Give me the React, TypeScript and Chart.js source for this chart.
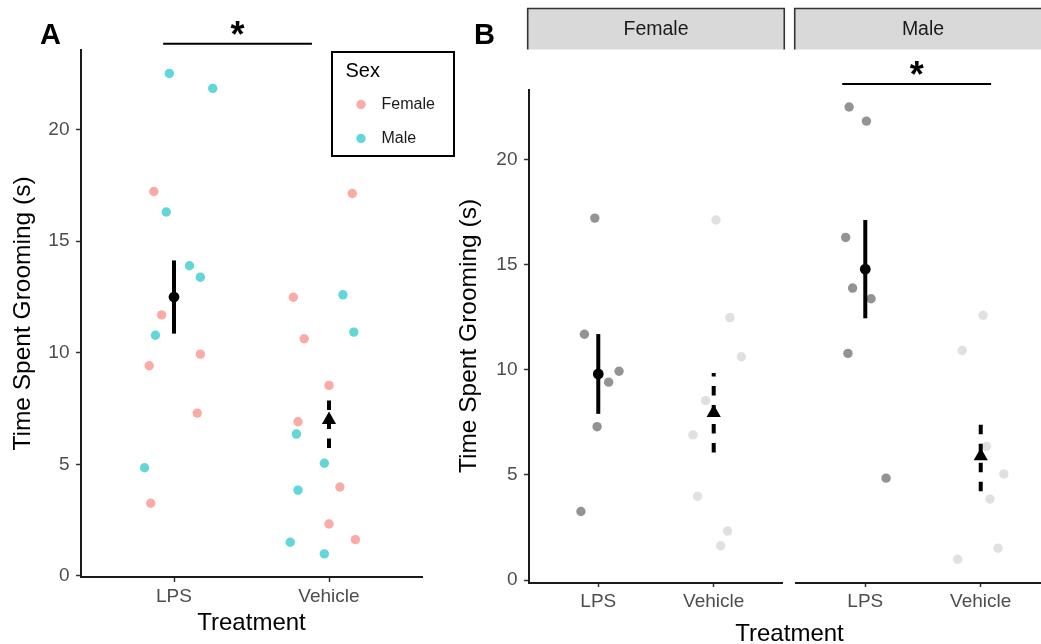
import { useEffect, useRef } from 'react';
import { Chart, registerables } from 'chart.js';

Chart.register(...registerables);

const FONT = "'Liberation Sans', Arial, Helvetica, sans-serif";

// Categories
const treatments = ['LPS', 'Vehicle'];
const sexes = ['Female', 'Male'];
const yTickValues = [0, 5, 10, 15, 20];

// Time spent grooming (s), one value per animal
const lpsFemale = [17.23, 11.7, 9.94, 9.42, 7.3, 3.26];
const lpsMale = [22.52, 21.85, 16.31, 13.9, 13.39, 10.79, 4.85];
const vehicleFemale = [17.14, 12.49, 10.63, 8.54, 6.91, 3.99, 2.33, 1.63];
const vehicleMale = [12.6, 10.93, 6.36, 5.05, 3.85, 1.51, 0.99];

// Horizontal jitter of each animal (category units), panel A
const jitterALpsFemale = [-0.13, -0.08, 0.17, -0.16, 0.15, -0.15];
const jitterALpsMale = [-0.03, 0.25, -0.05, 0.1, 0.17, -0.12, -0.19];
const jitterAVehicleFemale = [0.15, -0.23, -0.16, 0.0, -0.2, 0.07, 0.0, 0.17];
const jitterAVehicleMale = [0.09, 0.16, -0.21, -0.03, -0.2, -0.25, -0.03];

// Horizontal jitter, panel B
const jitterBLpsFemale = [-0.03, -0.12, 0.18, 0.09, -0.01, -0.15];
const jitterBLpsMale = [-0.14, 0.01, -0.17, -0.11, 0.05, -0.15, 0.18];
const jitterBVehicleFemale = [0.02, 0.14, 0.24, -0.07, -0.18, -0.14, 0.12, 0.06];
const jitterBVehicleMale = [0.02, -0.16, 0.05, 0.2, 0.08, 0.15, -0.2];

// Group mean and mean ± SE, per treatment (LPS, Vehicle)
const meanAll = [12.5, 7.0];
const lowAll = [10.86, 5.74];
const highAll = [14.14, 8.26];
const meanFemale = [9.81, 7.96];
const lowFemale = [7.91, 6.07];
const highFemale = [11.71, 9.86];
const meanMale = [14.8, 5.9];
const lowMale = [12.46, 4.22];
const highMale = [17.14, 7.58];

// Significance brackets
const sigA = { from: 0.93, to: 1.89, y: 23.85, label: '*' };
const sigBMale = { from: 0.8, to: 2.09, y: 23.62, label: '*' };

const sexColors = ['rgba(248,118,109,0.62)', 'rgba(0,191,196,0.62)'];
const treatmentGreys = ['rgba(80,80,80,0.62)', 'rgba(205,205,205,0.62)'];

// Offset of the Male facet along the shared x scale of panel B
const MALE_SHIFT = 2.313;

type Pt = { x: number; y: number };
const jittered = (vals: number[], jit: number[], pos: number): Pt[] =>
  vals.map((v, i) => ({ x: pos + jit[i], y: v }));

function summarySets(means: number[], lo: number[], hi: number[], positions: number[]) {
  const sets: any[] = positions.map((p, i) => ({
    type: 'line',
    label: `${treatments[i]} SE`,
    data: [
      { x: p, y: lo[i] },
      { x: p, y: hi[i] },
    ],
    borderColor: '#000',
    borderWidth: 4,
    borderDash: i === 1 ? [9.5, 9.5] : [],
    borderCapStyle: 'butt',
    pointRadius: 0,
    fill: false,
    order: 1,
  }));
  sets.push({
    type: 'scatter',
    label: 'mean',
    data: positions.map((p, i) => ({ x: p, y: means[i] })),
    pointStyle: ['circle', 'triangle'],
    pointRadius: [5.4, 8.2],
    backgroundColor: '#000',
    borderColor: '#000',
    borderWidth: 0,
    order: 0,
  });
  return sets;
}

function bracketSet(s: { from: number; to: number; y: number }, shift: number) {
  return {
    type: 'line',
    label: 'bracket',
    data: [
      { x: s.from + shift, y: s.y },
      { x: s.to + shift, y: s.y },
    ],
    borderColor: '#000',
    borderWidth: 2,
    pointRadius: 0,
    fill: false,
    clip: false,
    order: 0,
  };
}

function yAxis(min: number, max: number, width: number, titlePad: number) {
  return {
    type: 'linear',
    position: 'left',
    min,
    max,
    afterBuildTicks: (s: any) => {
      s.ticks = yTickValues.map((v) => ({ value: v }));
    },
    afterFit: (s: any) => {
      s.width = width;
    },
    border: { display: true, color: '#1A1A1A', width: 2 },
    grid: {
      display: true,
      drawOnChartArea: false,
      drawTicks: true,
      tickLength: 5,
      tickWidth: 1.5,
      tickColor: '#333333',
    },
    ticks: { color: '#4D4D4D', font: { family: FONT, size: 19 }, padding: 6.5 },
    title: {
      display: true,
      text: 'Time Spent Grooming (s)',
      color: '#000',
      font: { family: FONT, size: 24.5, lineHeight: 1 },
      padding: { top: titlePad, bottom: 0 },
    },
  };
}

function xAxis(min: number, max: number, tickValues: number[], height: number, titlePad: number, border: boolean) {
  return {
    type: 'linear',
    position: 'bottom',
    min,
    max,
    afterBuildTicks: (s: any) => {
      s.ticks = tickValues.map((v) => ({ value: v }));
    },
    afterFit: (s: any) => {
      s.height = height;
    },
    border: { display: border, color: '#1A1A1A', width: 2 },
    grid: {
      display: true,
      drawOnChartArea: false,
      drawTicks: true,
      tickLength: 5,
      tickWidth: 1.5,
      tickColor: '#333333',
    },
    ticks: {
      color: '#4D4D4D',
      font: { family: FONT, size: 19 },
      padding: 3.5,
      autoSkip: false,
      maxRotation: 0,
      callback: (_v: any, i: number) => treatments[i % 2],
    },
    title: {
      display: true,
      text: 'Treatment',
      color: '#000',
      font: { family: FONT, size: 24, lineHeight: 1 },
      padding: { top: 0, bottom: titlePad },
    },
  };
}

function drawStar(ctx: CanvasRenderingContext2D, text: string, cx: number, cy: number) {
  ctx.font = `bold 36px ${FONT}`;
  ctx.textAlign = 'center';
  ctx.textBaseline = 'alphabetic';
  ctx.fillStyle = '#000';
  const m = ctx.measureText(text);
  const base = cy + (m.actualBoundingBoxAscent - m.actualBoundingBoxDescent) / 2;
  ctx.fillText(text, cx, base);
}

const panelADecor = {
  id: 'panelADecor',
  afterDraw(chart: any) {
    const { ctx, scales } = chart;
    const { x, y } = scales;
    ctx.save();
    ctx.fillStyle = '#000';
    ctx.font = `bold 29px ${FONT}`;
    ctx.textAlign = 'left';
    ctx.textBaseline = 'alphabetic';
    ctx.fillText('A', 40, 44.3);

    drawStar(ctx, sigA.label, x.getPixelForValue((sigA.from + sigA.to) / 2), y.getPixelForValue(sigA.y) - 16);

    // Legend
    ctx.strokeStyle = '#000';
    ctx.lineWidth = 2;
    ctx.strokeRect(332, 52, 122, 104);
    ctx.fillStyle = '#000';
    ctx.font = `20px ${FONT}`;
    ctx.textAlign = 'left';
    ctx.textBaseline = 'middle';
    ctx.fillText('Sex', 345.5, 71);
    const sexSets = chart.data.datasets.filter((d: any) => sexes.includes(d.label));
    sexSets.forEach((d: any, i: number) => {
      const cy = 104.5 + i * 34;
      ctx.beginPath();
      ctx.arc(361, cy, 4.7, 0, Math.PI * 2);
      ctx.fillStyle = d.backgroundColor;
      ctx.fill();
      ctx.fillStyle = '#1A1A1A';
      ctx.font = `16px ${FONT}`;
      ctx.textAlign = 'left';
      ctx.fillText(d.label, 381.5, cy);
    });
    ctx.restore();
  },
};

const panelBDecor = {
  id: 'panelBDecor',
  afterDraw(chart: any) {
    const { ctx, chartArea, scales } = chart;
    const { x, y } = scales;
    ctx.save();
    ctx.fillStyle = '#000';
    ctx.font = `bold 29px ${FONT}`;
    ctx.textAlign = 'left';
    ctx.textBaseline = 'alphabetic';
    ctx.fillText('B', 28, 43.8);

    const panels = [
      [0.4, 2.6],
      [0.4 + MALE_SHIFT, 2.6 + MALE_SHIFT],
    ];
    panels.forEach(([a, b], i) => {
      const l = x.getPixelForValue(a);
      const r = x.getPixelForValue(b);
      // facet strip
      ctx.fillStyle = '#D9D9D9';
      ctx.fillRect(l - 1.3, 8.5, r - l + 2.6, 41);
      ctx.strokeStyle = '#333333';
      ctx.lineWidth = 1.6;
      ctx.beginPath();
      ctx.moveTo(l - 1.3, 49.5);
      ctx.lineTo(l - 1.3, 8.5);
      ctx.lineTo(r + 1.3, 8.5);
      ctx.lineTo(r + 1.3, 49.5);
      ctx.stroke();
      ctx.fillStyle = '#1A1A1A';
      ctx.font = `19.5px ${FONT}`;
      ctx.textAlign = 'center';
      ctx.textBaseline = 'middle';
      ctx.fillText(sexes[i], (l + r) / 2, 30);
      // x axis line of the facet
      ctx.strokeStyle = '#1A1A1A';
      ctx.lineWidth = 2;
      ctx.beginPath();
      ctx.moveTo(l - 1, chartArea.bottom + 1);
      ctx.lineTo(r, chartArea.bottom + 1);
      ctx.stroke();
    });

    drawStar(
      ctx,
      sigBMale.label,
      x.getPixelForValue((sigBMale.from + sigBMale.to) / 2 + MALE_SHIFT),
      y.getPixelForValue(sigBMale.y) - 16
    );
    ctx.restore();
  },
};

export default function App() {
  const refA = useRef<HTMLCanvasElement>(null);
  const refB = useRef<HTMLCanvasElement>(null);

  useEffect(() => {
    document.body.style.margin = '0';

    const chartA = new Chart(refA.current as HTMLCanvasElement, {
      type: 'scatter',
      data: {
        datasets: [
          ...summarySets(meanAll, lowAll, highAll, [1, 2]),
          bracketSet(sigA, 0),
          {
            type: 'scatter',
            label: sexes[0],
            data: [...jittered(lpsFemale, jitterALpsFemale, 1), ...jittered(vehicleFemale, jitterAVehicleFemale, 2)],
            backgroundColor: sexColors[0],
            borderWidth: 0,
            pointRadius: 4.7,
            order: 2,
          },
          {
            type: 'scatter',
            label: sexes[1],
            data: [...jittered(lpsMale, jitterALpsMale, 1), ...jittered(vehicleMale, jitterAVehicleMale, 2)],
            backgroundColor: sexColors[1],
            borderWidth: 0,
            pointRadius: 4.7,
            order: 2,
          },
        ] as any,
      },
      options: {
        responsive: false,
        animation: false,
        events: [],
        layout: { padding: { left: 0, top: 50, right: 48, bottom: 0 } },
        plugins: { legend: { display: false }, tooltip: { enabled: false } },
        scales: {
          x: xAxis(0.4, 2.6, [1, 2], 67, 9, true) as any,
          y: yAxis(-0.045, 23.57, 81, 11.3) as any,
        },
      },
      plugins: [panelADecor],
    });

    const chartB = new Chart(refB.current as HTMLCanvasElement, {
      type: 'scatter',
      data: {
        datasets: [
          ...summarySets(meanFemale, lowFemale, highFemale, [1, 2]),
          ...summarySets(meanMale, lowMale, highMale, [1 + MALE_SHIFT, 2 + MALE_SHIFT]),
          bracketSet(sigBMale, MALE_SHIFT),
          {
            type: 'scatter',
            label: treatments[0],
            data: [
              ...jittered(lpsFemale, jitterBLpsFemale, 1),
              ...jittered(lpsMale, jitterBLpsMale, 1 + MALE_SHIFT),
            ],
            backgroundColor: treatmentGreys[0],
            borderWidth: 0,
            pointRadius: 4.7,
            order: 2,
          },
          {
            type: 'scatter',
            label: treatments[1],
            data: [
              ...jittered(vehicleFemale, jitterBVehicleFemale, 2),
              ...jittered(vehicleMale, jitterBVehicleMale, 2 + MALE_SHIFT),
            ],
            backgroundColor: treatmentGreys[1],
            borderWidth: 0,
            pointRadius: 4.7,
            order: 2,
          },
        ] as any,
      },
      options: {
        responsive: false,
        animation: false,
        events: [],
        layout: { padding: { left: 0, top: 90, right: 10, bottom: 0 } },
        plugins: { legend: { display: false }, tooltip: { enabled: false } },
        scales: {
          x: xAxis(0.4, 2.6 + MALE_SHIFT, [1, 2, 1 + MALE_SHIFT, 2 + MALE_SHIFT], 68, 4, false) as any,
          y: yAxis(-0.095, 23.33, 83, 11) as any,
        },
      },
      plugins: [panelBDecor],
    });

    return () => {
      chartA.destroy();
      chartB.destroy();
    };
  }, []);

  return (
    <div style={{ position: 'relative', width: 1041, height: 644, overflow: 'hidden', background: '#fff' }}>
      <canvas ref={refA} width={470} height={644} style={{ position: 'absolute', left: 0, top: 0 }} />
      <canvas ref={refB} width={614} height={650} style={{ position: 'absolute', left: 446, top: 0 }} />
    </div>
  );
}
